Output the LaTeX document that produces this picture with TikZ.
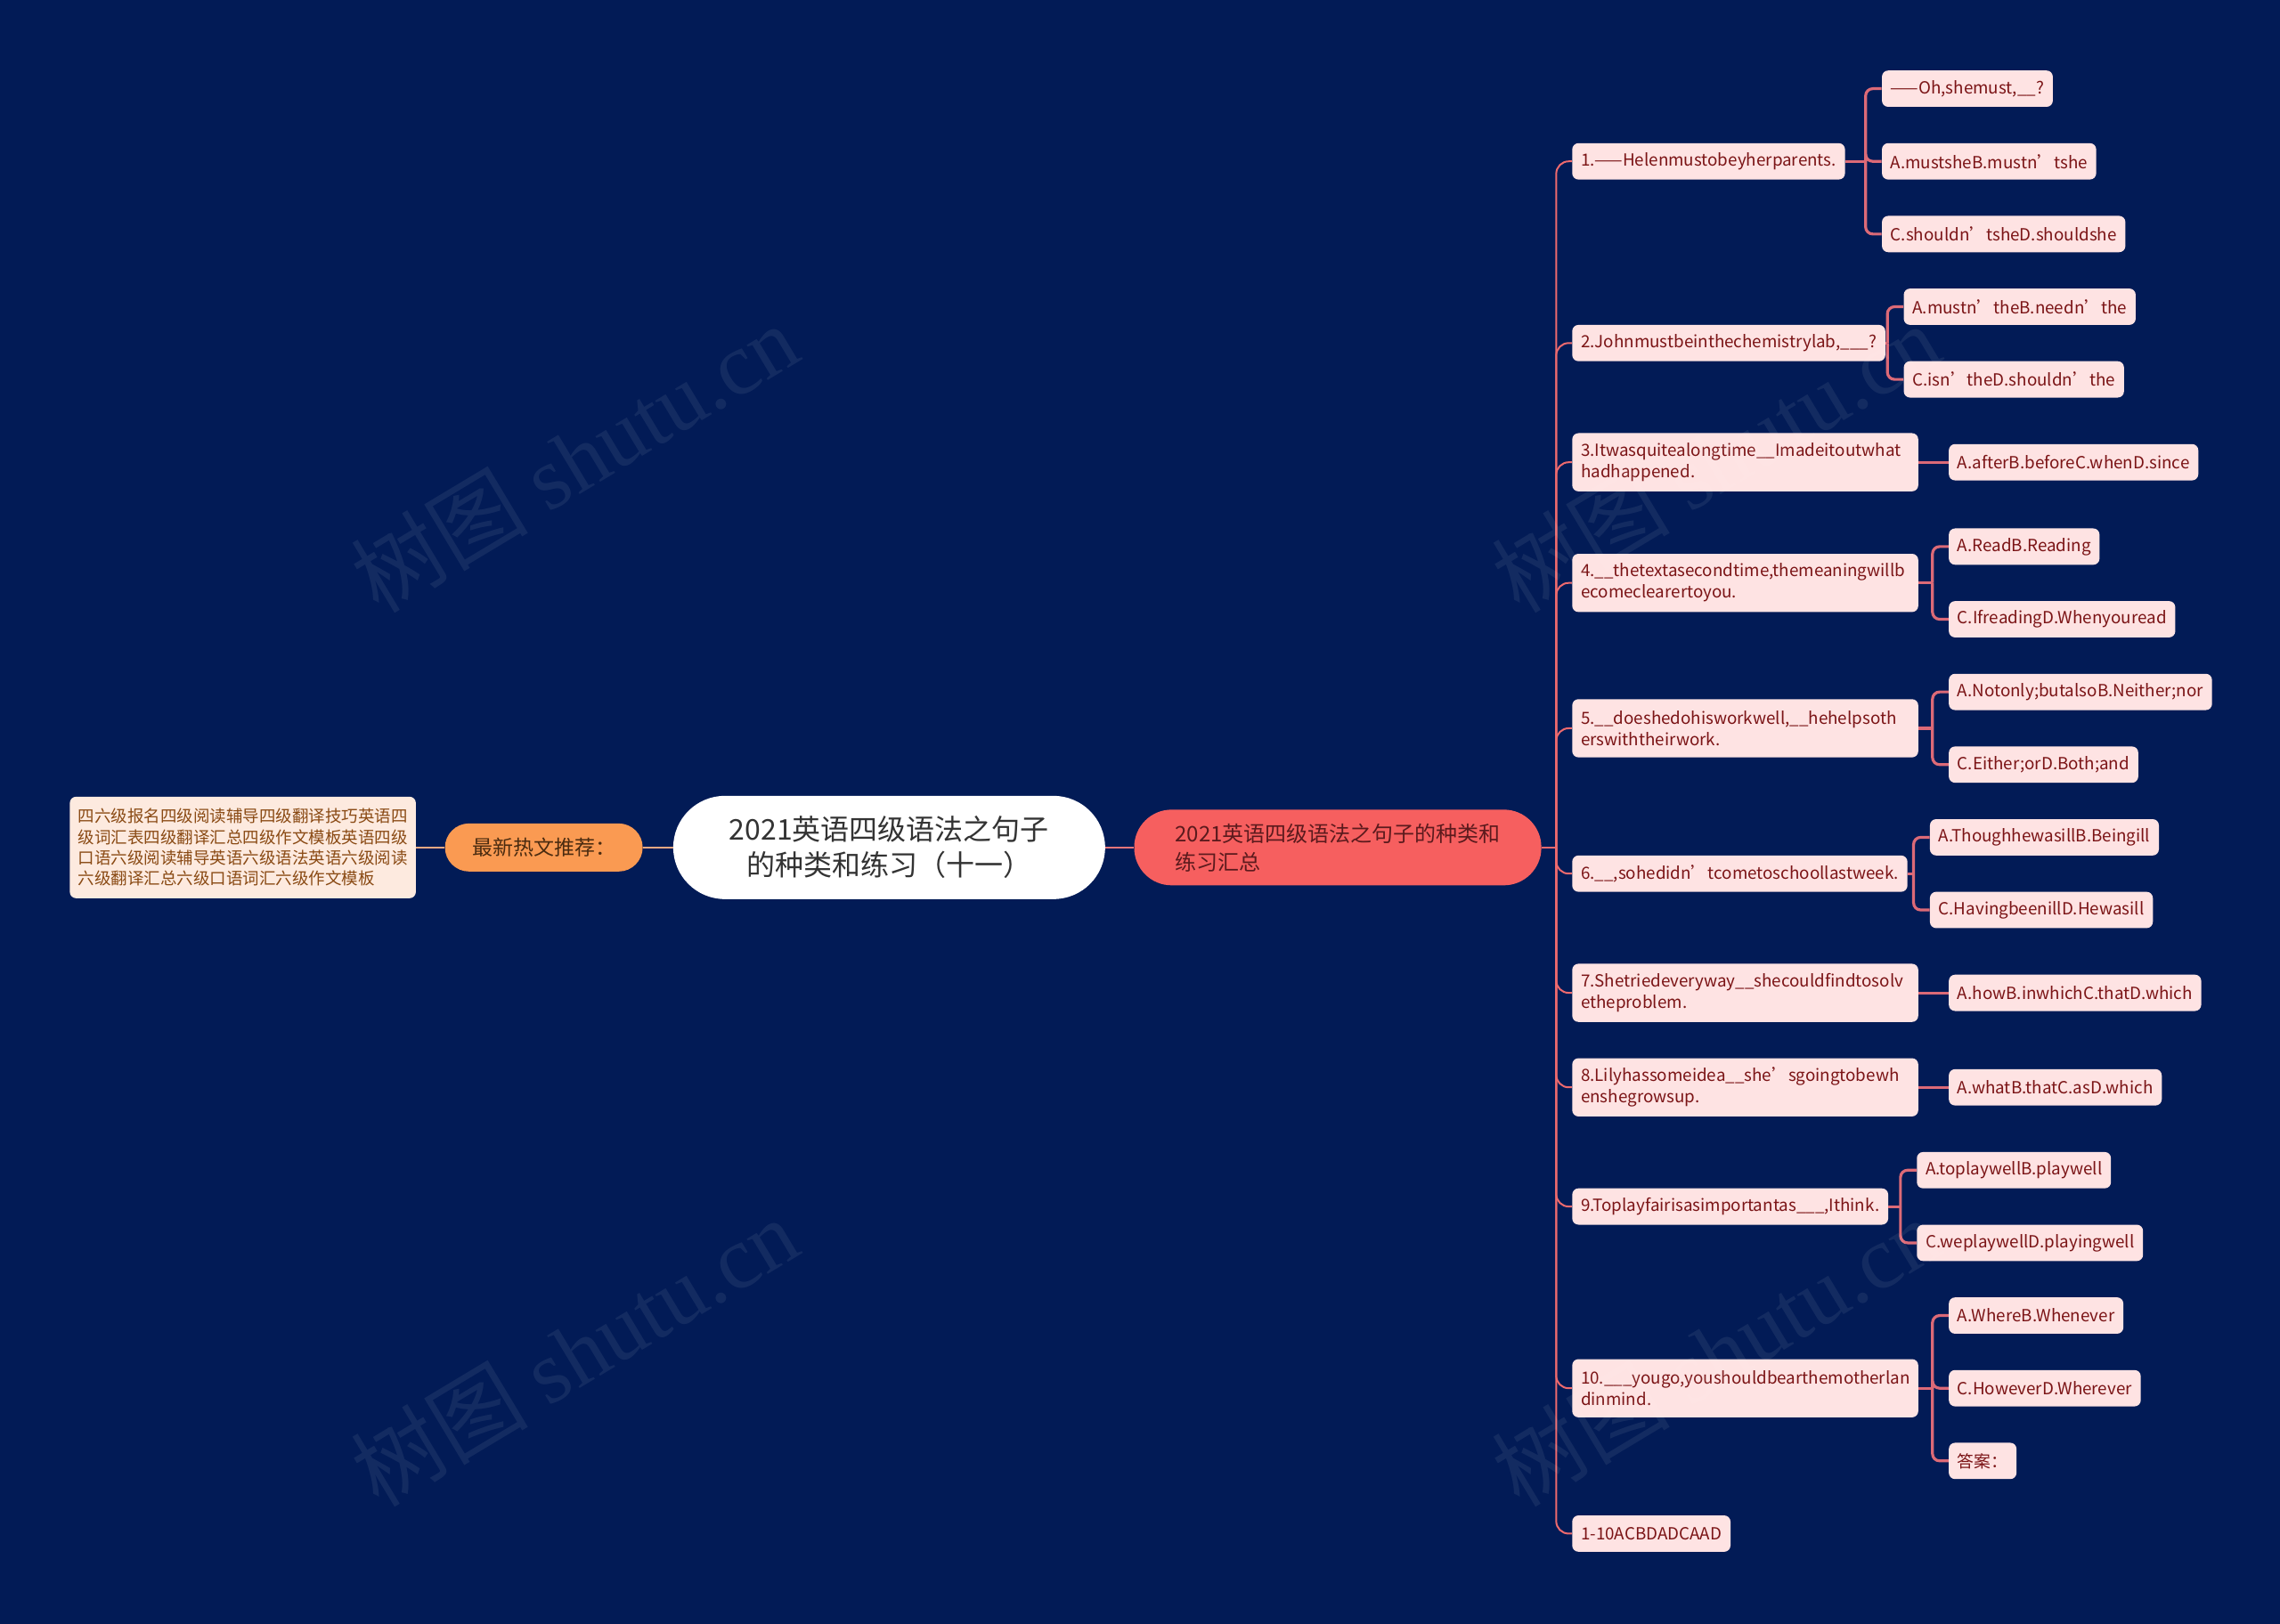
\documentclass[tikz,border=0pt]{standalone}
\usepackage{fontspec}
\setmainfont{Noto Sans CJK SC}
\newfontfamily\wmserif{Liberation Serif}
\usetikzlibrary{calc}
\definecolor{bg}{HTML}{021B56}
\definecolor{leafbg}{HTML}{FEE3E3}
\definecolor{leaftx}{HTML}{7B1416}
\definecolor{trunkc}{HTML}{EE6A6E}
\definecolor{branchc}{HTML}{DC6A77}
\definecolor{redfill}{HTML}{F65F5F}
\definecolor{redtx}{HTML}{5B1A1D}
\definecolor{roottx}{HTML}{333333}
\definecolor{orfill}{HTML}{FA9A52}
\definecolor{ortx}{HTML}{4A2B10}
\definecolor{lbfill}{HTML}{FDEADF}
\definecolor{lbtx}{HTML}{8A4A14}
\definecolor{leftc}{HTML}{EFA883}
\definecolor{rootc}{HTML}{E8757A}
\tikzset{
  leaf/.style={fill=leafbg, text=leaftx, rounded corners=3.5pt, anchor=west,
    font=\fontsize{9.4}{12}\selectfont, inner xsep=4.9pt, inner ysep=2pt,
    minimum height=20.4pt, align=left},
  leaftwo/.style={leaf, minimum height=32.7pt, text width=184.5pt},
  trunk/.style={draw=trunkc, line width=1pt, rounded corners=7pt},
  branch/.style={draw=branchc, line width=1.6pt, rounded corners=4pt},
  wm/.style={text=white, opacity=0.07, rotate=31, font=\fontsize{50}{50}\selectfont}
}
\begin{document}
\begin{tikzpicture}[x=0.8165pt, y=-0.8165pt]
\fill[bg] (0,0) rectangle (1568,1117);
\useasboundingbox (0,0) rectangle (1568,1117);

% central nodes
\node[fill=lbfill, text=lbtx, rounded corners=3.5pt, minimum width=194.3pt, minimum height=57pt,
  align=left, font=\fontsize{9.25}{11.7}\selectfont, inner sep=0pt] (lb) at (167,583)
  {四六级报名四级阅读辅导四级翻译技巧英语四\\级词汇表四级翻译汇总四级作文模板英语四级\\口语六级阅读辅导英语六级语法英语六级阅读\\六级翻译汇总六级口语词汇六级作文模板};
\node[fill=orfill, text=ortx, rounded corners=13.5pt, minimum width=111pt, minimum height=27pt,
  font=\fontsize{11.5}{13}\selectfont, inner sep=0pt] (or) at (374,583) {最新热文推荐：};
\node[fill=white, text=roottx, rounded corners=29pt, minimum width=242.5pt, minimum height=58pt,
  align=center, font=\fontsize{16}{20}\selectfont, inner sep=0pt] (root) at (611.5,583)
  {2021英语四级语法之句子\\的种类和练习（十一）};
\node[fill=redfill, text=redtx, rounded corners=21pt, minimum width=228.6pt, minimum height=42.5pt,
  align=left, font=\fontsize{12}{16}\selectfont, inner sep=0pt] (red) at (920,583)
  {2021英语四级语法之句子的种类和\\练习汇总};

\draw[leftc, line width=1.2pt] (lb.east) -- (or.west);
\draw[leftc, line width=1.2pt] (or.east) -- (root.west);
\draw[rootc, line width=1.2pt] (root.east) -- (red.west);

% questions
\node[leaf] (q1) at (1081,111) {1.——Helenmustobeyherparents.};
\node[leaf] (q2) at (1081,236) {2.Johnmustbeinthechemistrylab,\_\_\_?};
\node[leaftwo] (q3) at (1081,318) {3.Itwasquitealongtime\_\_Imadeitoutwhat\\hadhappened.};
\node[leaftwo] (q4) at (1081,401) {4.\_\_thetextasecondtime,themeaningwillb\\ecomeclearertoyou.};
\node[leaftwo] (q5) at (1081,501) {5.\_\_doeshedohisworkwell,\_\_hehelpsoth\\erswiththeirwork.};
\node[leaf] (q6) at (1081,601) {6.\_\_,sohedidn’tcometoschoollastweek.};
\node[leaftwo] (q7) at (1081,683) {7.Shetriedeveryway\_\_shecouldfindtosolv\\etheproblem.};
\node[leaftwo] (q8) at (1081,748) {8.Lilyhassomeidea\_\_she’sgoingtobewh\\enshegrowsup.};
\node[leaf] (q9) at (1081,830) {9.Toplayfairisasimportantas\_\_\_,Ithink.};
\node[leaftwo] (q10) at (1081,955) {10.\_\_\_yougo,youshouldbearthemotherlan\\dinmind.};
\node[leaf] (q11) at (1081,1055) {1-10ACBDADCAAD};

% options
\node[leaf] (o11) at (1294,61) {——Oh,shemust,\_\_?};
\node[leaf] (o12) at (1294,111) {A.mustsheB.mustn’tshe};
\node[leaf] (o13) at (1294,161) {C.shouldn’tsheD.shouldshe};
\node[leaf] (o21) at (1309,211) {A.mustn’theB.needn’the};
\node[leaf] (o22) at (1309,261) {C.isn’theD.shouldn’the};
\node[leaf] (o31) at (1340,318) {A.afterB.beforeC.whenD.since};
\node[leaf] (o41) at (1340,376) {A.ReadB.Reading};
\node[leaf] (o42) at (1340,426) {C.IfreadingD.Whenyouread};
\node[leaf] (o51) at (1340,476) {A.Notonly;butalsoB.Neither;nor};
\node[leaf] (o52) at (1340,526) {C.Either;orD.Both;and};
\node[leaf] (o61) at (1327,576) {A.ThoughhewasillB.Beingill};
\node[leaf] (o62) at (1327,626) {C.HavingbeenillD.Hewasill};
\node[leaf] (o71) at (1340,683) {A.howB.inwhichC.thatD.which};
\node[leaf] (o81) at (1340,748) {A.whatB.thatC.asD.which};
\node[leaf] (o91) at (1318,805) {A.toplaywellB.playwell};
\node[leaf] (o92) at (1318,855) {C.weplaywellD.playingwell};
\node[leaf] (o101) at (1340,905) {A.WhereB.Whenever};
\node[leaf] (o102) at (1340,955) {C.HoweverD.Wherever};
\node[leaf] (o103) at (1340,1005) {答案：};

% trunk
\draw[draw=trunkc, line width=1pt] (red.east) -- ++(10,0) coordinate (tr);
\foreach \q in {q1,q2,q3,q4,q5,q6,q7,q8,q9,q10,q11}{
  \draw[trunk] (tr) |- (\q.west);
}

% branches
\foreach \q/\o/\list in {q1/o11/{o11,o12,o13}, q2/o21/{o21,o22}, q4/o41/{o41,o42},
  q5/o51/{o51,o52}, q6/o61/{o61,o62}, q9/o91/{o91,o92}, q10/o101/{o101,o102,o103}}{
  \coordinate (bx) at ($(\o.west)+(-11,0)$);
  \draw[draw=branchc, line width=1.6pt] (\q.east) -- (bx |- \q.east);
  \foreach \k in \list { \draw[branch] (bx |- \q.east) |- (\k.west); }
}
\draw[draw=branchc, line width=1.6pt] (q3.east) -- (o31.west);
\draw[draw=branchc, line width=1.6pt] (q7.east) -- (o71.west);
\draw[draw=branchc, line width=1.6pt] (q8.east) -- (o81.west);

% watermarks
\foreach \p/\n in {{(395,315)}/w1, {(1180,315)}/w2, {(395,930)}/w3, {(1180,930)}/w4}{
  \node[wm] (\n) at \p {树图 {\wmserif shutu.cn}};
}
\end{tikzpicture}
\end{document}
